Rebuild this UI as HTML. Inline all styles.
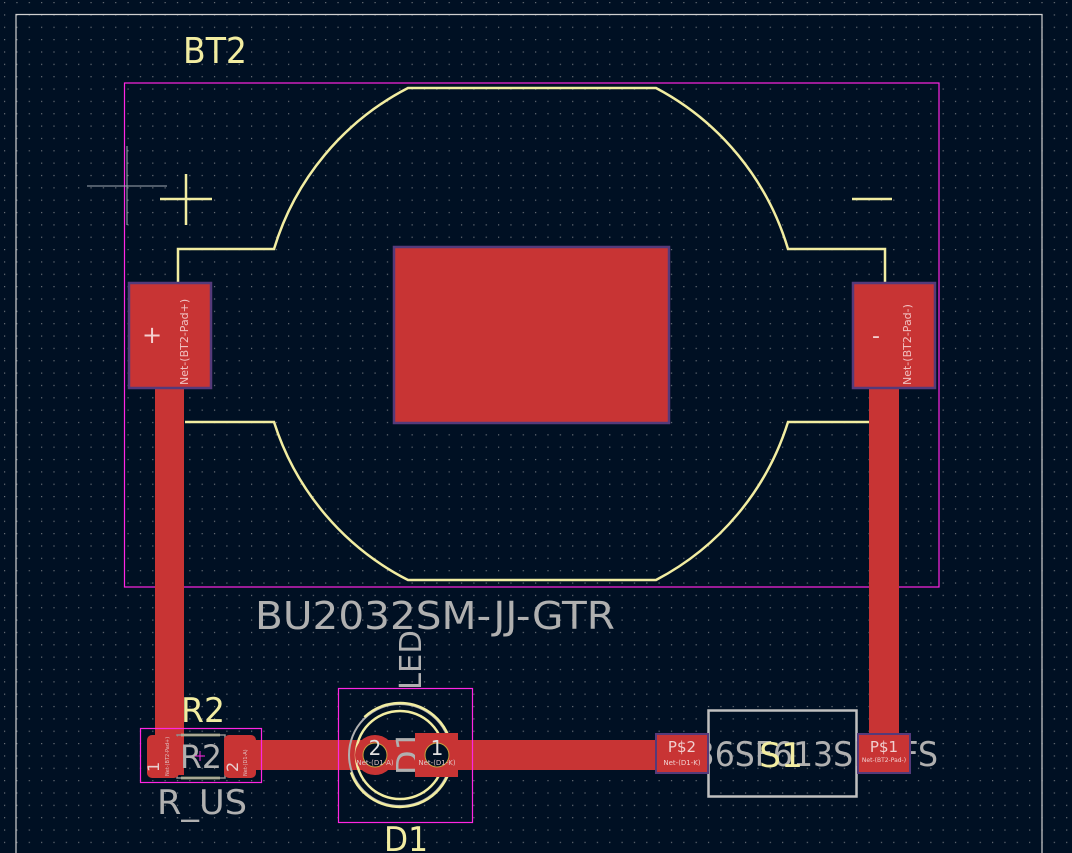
<!DOCTYPE html>
<html><head><meta charset="utf-8"><style>
html,body{margin:0;padding:0;background:#001023;}
svg{display:block}
text{font-family:"DejaVu Sans","Liberation Sans",sans-serif;}
</style></head><body>
<svg width="1072" height="853" viewBox="0 0 1072 853" xmlns="http://www.w3.org/2000/svg">
<defs>
<pattern id="g" x="4" y="2" width="12.35" height="12.35" patternUnits="userSpaceOnUse">
<rect x="0" y="0" width="1.2" height="1.2" fill="#6a7078"/>
</pattern>
</defs>
<rect width="1072" height="853" fill="#001023"/>
<rect width="1072" height="853" fill="url(#g)"/>
<path d="M16,853 L16,14.5 L1042,14.5 L1042,853" fill="none" stroke="#d0d0d0" stroke-width="1.2"/>
<rect x="124.5" y="83" width="814.5" height="504" fill="none" stroke="#ff26e2" stroke-width="1.2"/>
<g fill="none" stroke="#f2eda1" stroke-width="2.5">
<path d="M178,282 L178,249 L274,249 A269,269 0 0 1 408,88 L656,88 A269,269 0 0 1 788,249 L885,249 L885,282"/>
<path d="M185,422 L274,422 A269,269 0 0 0 408,580 L656,580 A269,269 0 0 0 788,422 L869,422"/>
<path d="M160,199 L212,199 M186,174 L186,225"/>
<path d="M852,199 L892,199"/>
</g>
<path d="M87,186 L167,186 M127,146 L127,225" stroke="#a0a8b0" stroke-width="1"/>
<g fill="#c83434">
<rect x="155" y="385" width="29" height="390"/>
<rect x="869" y="385" width="30" height="362"/>
<rect x="225" y="740" width="465" height="30"/>
</g>
<g fill="#c83434" stroke="#553a7a" stroke-width="2.5">
<rect x="129" y="283" width="82" height="105"/>
<rect x="853" y="283" width="82" height="105"/>
<rect x="394" y="247" width="275" height="176"/>
</g>
<g fill="#f0c0c0" font-size="11">
<text x="152" y="343" font-size="24" text-anchor="middle" fill="#f4d0d0">+</text>
<text x="876" y="343" font-size="22" text-anchor="middle" fill="#f4d0d0">-</text>
<text transform="translate(188,385) rotate(-90)" font-family="DejaVu Sans Mono">Net-(BT2-Pad+)</text>
<text transform="translate(911,385) rotate(-90)" font-family="DejaVu Sans Mono">Net-(BT2-Pad-)</text>
</g>
<!-- D1 -->
<rect x="338.5" y="688.5" width="134" height="134" fill="none" stroke="#ff26e2" stroke-width="1.2"/>
<circle cx="400" cy="755" r="51" fill="none" stroke="#b0b0b0" stroke-width="2"/>
<circle cx="400" cy="755" r="52" fill="none" stroke="#f2eda1" stroke-width="2.5" stroke-dasharray="200 60" transform="rotate(-60 400 755)"/>
<circle cx="400" cy="755" r="44" fill="none" stroke="#f2eda1" stroke-width="2.5"/>
<text transform="translate(418,775) rotate(-90)" font-size="30" fill="#b0b0b0" textLength="45" lengthAdjust="spacingAndGlyphs">D1</text>
<text transform="translate(421,690) rotate(-90)" font-size="30" fill="#b0b0b0" textLength="60" lengthAdjust="spacingAndGlyphs">LED</text>
<circle cx="375" cy="755" r="20" fill="#c83434"/>
<rect x="415" y="733" width="43" height="44" fill="#c83434"/>
<circle cx="375" cy="755" r="12" fill="#001023" stroke="#c8a040" stroke-width="1"/>
<circle cx="437" cy="755" r="12" fill="#001023" stroke="#c8a040" stroke-width="1"/>
<text x="375" y="755" font-size="20" text-anchor="middle" fill="#e0e0e0">2</text>
<text x="437" y="755" font-size="20" text-anchor="middle" fill="#e0e0e0">1</text>
<text x="375" y="765" font-size="7" text-anchor="middle" fill="#e0c0c0">Net-(D1-A)</text>
<text x="437" y="765" font-size="7" text-anchor="middle" fill="#e0c0c0">Net-(D1-K)</text>
<text x="406" y="851" font-size="34" text-anchor="middle" fill="#f2eda1" textLength="44" lengthAdjust="spacingAndGlyphs">D1</text>
<!-- R2 -->
<rect x="140.5" y="728.5" width="121" height="54" fill="none" stroke="#ff26e2" stroke-width="1.2"/>
<path d="M181,735 L220,735 M181,778 L220,778" stroke="#f2eda1" stroke-width="2.5"/>
<rect x="177" y="735" width="48" height="43" fill="none" stroke="#909090" stroke-width="1.5"/>
<rect x="147" y="735" width="32" height="43" rx="5" fill="#c83434"/>
<rect x="224" y="735" width="32" height="43" rx="5" fill="#c83434"/>
<text x="201" y="768" font-size="32" text-anchor="middle" fill="#b0b0b0" textLength="42" lengthAdjust="spacingAndGlyphs">R2</text>
<path d="M195,756 L205,756 M200,751 L200,761" stroke="#ff26e2" stroke-width="1"/>
<text x="203" y="722" font-size="34" text-anchor="middle" fill="#f2eda1" textLength="44" lengthAdjust="spacingAndGlyphs">R2</text>
<text x="202" y="814" font-size="34" text-anchor="middle" fill="#b0b0b0" textLength="90" lengthAdjust="spacingAndGlyphs">R_US</text>
<text transform="translate(159,772) rotate(-90)" font-size="16" fill="#e8d0d0">1</text>
<text transform="translate(238,772) rotate(-90)" font-size="16" fill="#e8d0d0">2</text>
<text transform="translate(169,776) rotate(-90)" font-size="5" fill="#e0c0c0">Net-(BT2-Pad+)</text>
<text transform="translate(247,776) rotate(-90)" font-size="5" fill="#e0c0c0">Net-(D1-A)</text>
<!-- S1 -->
<rect x="708.5" y="710.5" width="148" height="86" fill="none" stroke="#c0c0c0" stroke-width="2.5"/>
<text x="673" y="766" font-size="34" fill="#b0b0b0" textLength="265" lengthAdjust="spacingAndGlyphs">B36SF613SM1FS</text>
<text x="781" y="767" font-size="34" text-anchor="middle" fill="#f2eda1" textLength="44" lengthAdjust="spacingAndGlyphs">S1</text>
<g fill="#c83434" stroke="#553a7a" stroke-width="2">
<rect x="656" y="734" width="52" height="39"/>
<rect x="858" y="734" width="52" height="39"/>
</g>
<text x="682" y="752" font-size="15" text-anchor="middle" fill="#f0d0d0">P$2</text>
<text x="884" y="752" font-size="15" text-anchor="middle" fill="#f0d0d0">P$1</text>
<text x="682" y="765" font-size="7" text-anchor="middle" fill="#f0d0d0">Net-(D1-K)</text>
<text x="884" y="762" font-size="6" text-anchor="middle" fill="#f0d0d0">Net-(BT2-Pad-)</text>
<text x="183" y="63" font-size="36" fill="#f2eda1" textLength="64" lengthAdjust="spacingAndGlyphs">BT2</text>
<text x="255" y="629" font-size="38" fill="#b0b0b0" textLength="360" lengthAdjust="spacingAndGlyphs">BU2032SM-JJ-GTR</text>
</svg>
</body></html>
